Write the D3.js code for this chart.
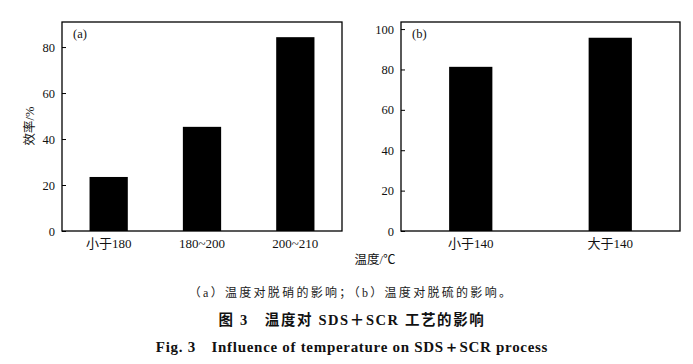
<!DOCTYPE html>
<html><head><meta charset="utf-8">
<script src="https://cdn.jsdelivr.net/npm/d3@7"></script>
<style>body{margin:0;background:#fff;} svg{display:block;}</style>
</head><body>
<script>
const catsA = ["小于180", "180~200", "200~210"];
const valsA = [23.5, 45.3, 84.3];
const ticksA = [0, 20, 40, 60, 80];
const catsB = ["小于140", "大于140"];
const valsB = [81.3, 95.7];
const ticksB = [0, 20, 40, 60, 80, 100];
const yLabel = "效率/%";
const xLabel = "温度/℃";
const caption1 = "（a）温度对脱硝的影响；（b）温度对脱硫的影响。";
const caption2 = "图 3　温度对 SDS＋SCR 工艺的影响";
const caption3 = "Fig. 3　Influence of temperature on SDS＋SCR process";

const W = 693, H = 364;
const svg = d3.select("body").append("svg").attr("width", W).attr("height", H);
const serif = "'Liberation Serif','DejaVu Serif',serif";
const mixed = "'Liberation Serif','Noto Sans CJK SC',serif";

function panel(cfg) {
  const {x0, x1, y0, y1, cats, vals, ticks, ymax, pad, tag} = cfg;
  const x = d3.scaleBand().domain(cats).range([x0, x1]).paddingInner(pad).paddingOuter(pad / 2);
  const y = d3.scaleLinear().domain([0, ymax]).range([y1, y0]);
  const g = svg.append("g");
  g.selectAll("rect.bar").data(vals).join("rect")
    .attr("x", (d, i) => x(cats[i])).attr("width", x.bandwidth())
    .attr("y", d => y(d)).attr("height", d => y(0) - y(d)).attr("fill", "#000");
  g.append("rect").attr("x", x0).attr("y", y0).attr("width", x1 - x0).attr("height", y1 - y0)
    .attr("fill", "none").attr("stroke", "#000").attr("stroke-width", 1.3);
  const ya = d3.axisLeft(y).tickValues(ticks).tickSizeInner(-4).tickSizeOuter(0).tickPadding(7);
  const yg = g.append("g").attr("transform", `translate(${x0},0)`).call(ya);
  yg.select(".domain").remove();
  yg.selectAll("text").attr("font-family", serif).attr("font-size", 12.5).attr("fill", "#111");
  yg.selectAll("line").attr("stroke", "#000");
  const xa = d3.axisBottom(x).tickSize(0).tickPadding(8);
  const xg = g.append("g").attr("transform", `translate(0,${y1})`).call(xa);
  xg.select(".domain").remove();
  xg.selectAll("text").attr("font-family", mixed).attr("font-size", 13).attr("fill", "#111");
  g.append("text").attr("x", x0 + 11).attr("y", y0 + 16).text(tag)
    .attr("font-family", serif).attr("font-size", 12.5).attr("fill", "#111");
}

panel({x0: 62, x1: 342, y0: 22, y1: 231, cats: catsA, vals: valsA, ticks: ticksA, ymax: 90.9, pad: 0.59, tag: "(a)"});
panel({x0: 401, x1: 680, y0: 22, y1: 231, cats: catsB, vals: valsB, ticks: ticksB, ymax: 103.5, pad: 0.69, tag: "(b)"});

svg.append("text").attr("transform", "translate(34,126) rotate(-90)").attr("text-anchor", "middle")
  .attr("font-family", mixed).attr("font-size", 12.5).attr("fill", "#111").text(yLabel);
svg.append("text").attr("x", 375).attr("y", 264).attr("text-anchor", "middle")
  .attr("font-family", mixed).attr("font-size", 12.5).attr("fill", "#111").text(xLabel);

svg.append("text").attr("x", 351).attr("y", 297).attr("text-anchor", "middle")
  .attr("font-family", mixed).attr("font-size", 12).attr("fill", "#222").attr("letter-spacing", 2.3).text(caption1);
svg.append("text").attr("x", 352).attr("y", 325).attr("text-anchor", "middle")
  .attr("font-family", mixed).attr("font-size", 14.5).attr("font-weight", "bold").attr("fill", "#111").attr("letter-spacing", 1.6).text(caption2);
svg.append("text").attr("x", 352).attr("y", 352).attr("text-anchor", "middle")
  .attr("font-family", serif).attr("font-size", 15).attr("font-weight", "bold").attr("fill", "#111").attr("letter-spacing", 0.7).text(caption3);
</script>
</body></html>
